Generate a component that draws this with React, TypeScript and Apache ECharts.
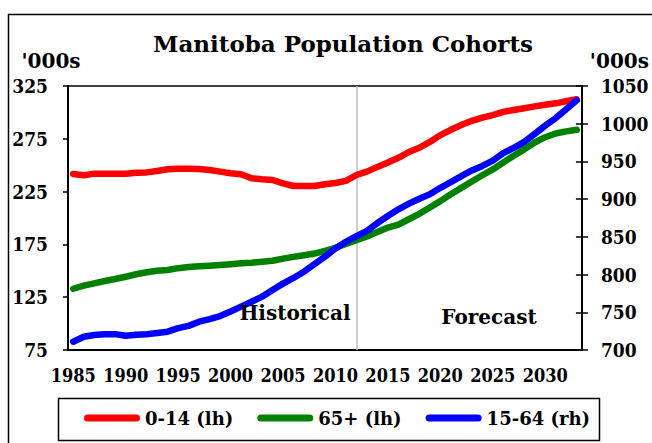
import React, { useEffect, useRef } from "react";
import * as echarts from "echarts";

const years = [
  "1985", "1986", "1987", "1988", "1989", "1990", "1991", "1992", "1993", "1994",
  "1995", "1996", "1997", "1998", "1999", "2000", "2001", "2002", "2003", "2004",
  "2005", "2006", "2007", "2008", "2009", "2010", "2011", "2012", "2013", "2014",
  "2015", "2016", "2017", "2018", "2019", "2020", "2021", "2022", "2023", "2024",
  "2025", "2026", "2027", "2028", "2029", "2030", "2031", "2032", "2033",
];

// 0-14, thousands (left axis)
const age0to14 = [
  241.7, 240.4, 242.0, 242.0, 242.0, 242.0, 242.9, 243.2, 244.5, 246.1,
  246.7, 246.7, 246.5, 245.5, 243.9, 242.3, 241.4, 237.6, 236.6, 236.0,
  232.8, 230.3, 230.3, 230.3, 231.9, 233.2, 235.2, 240.7, 243.9, 248.4,
  252.5, 257.0, 262.5, 266.5, 272.0, 278.5, 283.5, 288.0, 292.0, 295.0,
  297.5, 300.5, 302.3, 304.0, 305.7, 307.2, 308.6, 310.5, 312.4,
];

// 65+, thousands (left axis)
const age65plus = [
  133.0, 135.9, 138.1, 140.3, 142.2, 144.4, 146.7, 148.6, 150.1, 150.8,
  152.5, 153.5, 154.2, 154.8, 155.5, 156.2, 157.1, 157.7, 158.6, 159.5,
  161.5, 163.2, 164.8, 166.3, 168.8, 171.8, 175.5, 179.0, 182.5, 186.8,
  191.0, 193.8, 198.8, 204.0, 210.0, 216.0, 222.5, 228.5, 234.5, 240.5,
  246.0, 252.5, 259.0, 265.0, 271.5, 276.5, 280.0, 282.0, 283.5,
];

// 15-64, thousands (right axis)
const age15to64 = [
  711.0, 717.6, 719.9, 721.0, 721.0, 718.9, 720.3, 721.0, 722.5, 724.3,
  729.0, 732.0, 737.5, 741.0, 745.0, 751.0, 757.5, 764.0, 770.7, 779.6,
  788.0, 795.5, 803.8, 813.8, 823.8, 834.5, 843.5, 851.0, 858.0, 868.3,
  877.7, 886.5, 894.0, 900.5, 906.5, 915.0, 922.5, 930.5, 938.0, 944.0,
  951.0, 961.0, 968.0, 976.0, 986.5, 997.5, 1007.5, 1019.3, 1031.0,
];

const leftTicks = [75, 125, 175, 225, 275, 325];
const rightTicks = [700, 750, 800, 850, 900, 950, 1000, 1050];

const seriesNames = ["0-14 (lh)", "65+ (lh)", "15-64 (rh)"];
const seriesColors = ["#ff0000", "#008000", "#0000ff"];
const dividerYear = "2012";

const FONT = '"DejaVu Serif", serif';
const AXIS_FONT = '"DejaVu Serif Condensed", "DejaVu Serif", serif';

export default function App() {
  const ref = useRef<HTMLDivElement>(null);

  useEffect(() => {
    if (!ref.current) return;
    const chart = echarts.init(ref.current, undefined, { renderer: "svg" });

    const labelStyle = {
      fontFamily: FONT,
      fontWeight: "bold" as const,
      color: "#000",
    };
    const axisLabelStyle = {
      fontFamily: AXIS_FONT,
      fontWeight: "bold" as const,
      color: "#000",
      fontSize: 18,
    };

    const lineSeries = (i: number, data: number[], yAxisIndex: number, extra: any = {}) => ({
      name: seriesNames[i],
      type: "line",
      data,
      yAxisIndex,
      showSymbol: false,
      symbol: "none",
      itemStyle: { color: seriesColors[i] },
      lineStyle: { color: seriesColors[i], width: 6.5, cap: "round", join: "round" },
      z: 3,
      ...extra,
    });

    chart.setOption({
      animation: false,
      textStyle: { fontFamily: FONT },
      title: {
        text: "Manitoba Population Cohorts",
        left: 338,
        top: 27,
        textAlign: "center",
        textStyle: { ...labelStyle, fontSize: 23 },
      },
      grid: {
        left: 68,
        right: 67,
        top: 86,
        bottom: 93,
        show: true,
        borderColor: "#000",
        borderWidth: 1.5,
        backgroundColor: "transparent",
      },
      legend: {
        data: seriesNames,
        left: 84,
        top: 409,
        padding: 0,
        itemWidth: 56,
        itemHeight: 7,
        itemGap: 24,
        icon: "path://M3.5,0 L52.5,0 A3.5,3.5 0 0 1 52.5,7 L3.5,7 A3.5,3.5 0 0 1 3.5,0 Z",
        textStyle: { ...labelStyle, fontSize: 18 },
      },
      xAxis: {
        type: "category",
        data: years,
        boundaryGap: true,
        axisLine: { lineStyle: { color: "#000", width: 2 } },
        axisTick: { interval: 4, length: 5, lineStyle: { color: "#000", width: 1.5 } },
        axisLabel: { ...axisLabelStyle, interval: 4, margin: 16 },
        splitLine: { show: false },
      },
      yAxis: [
        {
          type: "value",
          position: "left",
          min: 75,
          max: 325,
          name: "'000s",
          nameLocation: "end",
          nameGap: 15,
          nameTextStyle: { ...labelStyle, fontSize: 20, align: "center", padding: [0, 34, 0, 0] },
          axisLine: { show: true, lineStyle: { color: "#000", width: 2 } },
          axisTick: { show: true, length: 5, customValues: leftTicks, lineStyle: { color: "#000", width: 1.5 } },
          axisLabel: { ...axisLabelStyle, fontSize: 19, margin: 20, customValues: leftTicks },
          splitLine: { show: false },
        },
        {
          type: "value",
          position: "right",
          min: 700,
          max: 1050,
          interval: 50,
          name: "'000s",
          nameLocation: "end",
          nameGap: 15,
          nameTextStyle: { ...labelStyle, fontSize: 20, align: "center", padding: [0, 0, 0, 75] },
          axisLine: { show: true, lineStyle: { color: "#000", width: 2 } },
          axisTick: { show: true, length: 6, lineStyle: { color: "#000", width: 1.5 } },
          axisLabel: {
            ...axisLabelStyle,
            fontSize: 19,
            margin: 19,
            customValues: rightTicks,
            formatter: (v: number) => String(v),
          },
          splitLine: { show: false },
        },
        {
          type: "value",
          position: "right",
          min: 700,
          max: 1050,
          interval: 50,
          axisLine: { show: false },
          axisTick: { show: true, inside: true, length: 6, lineStyle: { color: "#000", width: 1.5 } },
          axisLabel: { show: false },
          splitLine: { show: false },
        },
      ],
      graphic: [
        {
          type: "rect",
          silent: true,
          z: -1,
          shape: { x: 8.5, y: 14.5, width: 700, height: 500 },
          style: { fill: "none", stroke: "#000", lineWidth: 1.5 },
        },
        {
          type: "rect",
          silent: true,
          shape: { x: 58.5, y: 398.5, width: 541, height: 42 },
          style: { fill: "#fff", stroke: "#000", lineWidth: 1.5 },
          z: 0,
        },
        {
          type: "text",
          x: 295,
          y: 313,
          z: 10,
          style: {
            text: "Historical",
            fontFamily: FONT,
            fontWeight: "bold",
            fontSize: 20,
            fill: "#000",
            align: "center",
            verticalAlign: "middle",
          },
        },
        {
          type: "text",
          x: 489,
          y: 317,
          z: 10,
          style: {
            text: "Forecast",
            fontFamily: FONT,
            fontWeight: "bold",
            fontSize: 20,
            fill: "#000",
            align: "center",
            verticalAlign: "middle",
          },
        },
      ],
      series: [
        lineSeries(0, age0to14, 0, {
          markLine: {
            silent: true,
            z: 1,
            symbol: ["none", "none"],
            label: { show: false },
            lineStyle: { color: "#c0c0c0", width: 1.5, type: "solid" },
            data: [{ xAxis: dividerYear }],
          },
        }),
        lineSeries(1, age65plus, 0),
        lineSeries(2, age15to64, 1),
      ],
    });

    return () => chart.dispose();
  }, []);

  return (
    <div
      ref={ref}
      style={{ position: "absolute", left: 0, top: 0, width: 652, height: 443, background: "#fff" }}
    />
  );
}
